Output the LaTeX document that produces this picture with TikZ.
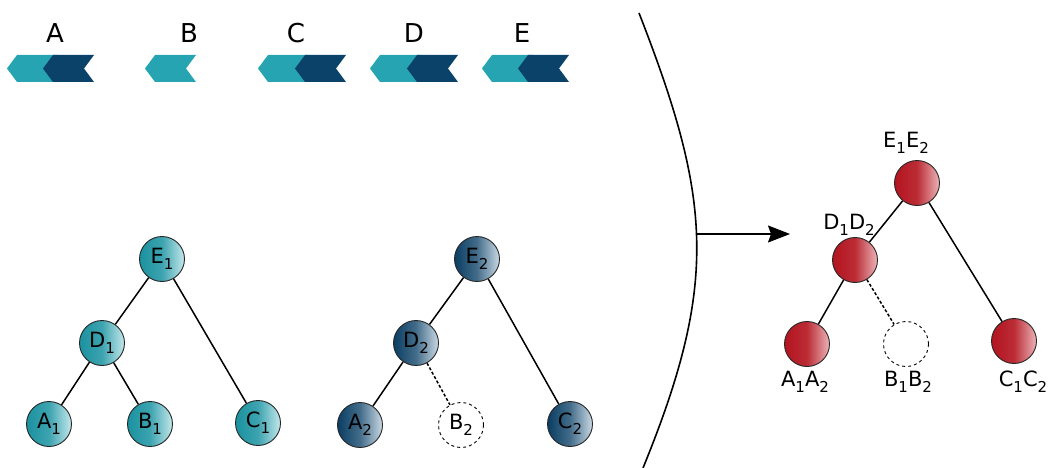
\documentclass[tikz,border=0pt]{standalone}
\usepackage{fontspec}
\setmainfont{DejaVu Sans}
\usetikzlibrary{arrows.meta}

\definecolor{chevlight}{HTML}{26A4B1}
\definecolor{chevdark}{HTML}{0B426A}
\definecolor{tealL}{HTML}{1B92A0}
\definecolor{tealR}{HTML}{C4E8EC}
\definecolor{blueL}{HTML}{0A3E63}
\definecolor{blueR}{HTML}{CAD9E4}
\definecolor{redL}{HTML}{B3141E}
\definecolor{redR}{HTML}{EBB4B7}

% lowered index digit
\newcommand\idx[1]{\raisebox{-0.28em}{\fontsize{15}{15}\selectfont#1}}

\tikzset{
  x=1pt, y=-1pt,
  chev/.pic={\fill (0,0) -- (41,0) -- (31,13.5) -- (41,27) -- (0,27) -- (-10,13.5) -- cycle;},
  letter/.style={font=\fontsize{26}{30}\selectfont, inner sep=0pt},
  tag/.style={font=\fontsize{21}{25}\selectfont, inner sep=0pt},
  ball/.style={circle, draw=black!85, line width=0.9pt, minimum size=45pt, inner sep=0pt,
               font=\fontsize{21}{25}\selectfont},
  tealball/.style={ball, left color=tealL, right color=tealR, middle color=tealL!80!tealR},
  blueball/.style={ball, left color=blueL, right color=blueR, middle color=blueL!70!blueR},
  redball/.style={ball, left color=redL, right color=redR, middle color=redL!85!redR},
  ghost/.style={circle, draw=black, dashed, line width=0.9pt, minimum size=45pt, inner sep=0pt,
                font=\fontsize{21}{25}\selectfont},
  edge/.style={line width=1.5pt},
  ghostedge/.style={line width=1.5pt, densely dashed},
}

\begin{document}
\begin{tikzpicture}
\useasboundingbox (0,0) rectangle (1051,468);

% sequence letters and their chevrons
\node[letter] (lA) at (55,33) {A};
\node[letter] (lB) at (189,33) {B};
\node[letter] (lC) at (296,33) {C};
\node[letter] (lD) at (414,33) {D};
\node[letter] (lE) at (522,33) {E};

\pic[chevlight] (cA1) at (17,55) {chev};
\pic[chevdark]  (cA2) at (53,55) {chev};
\pic[chevlight] (cB1) at (155,55) {chev};
\pic[chevlight] (cC1) at (268,55) {chev};
\pic[chevdark]  (cC2) at (305,55) {chev};
\pic[chevlight] (cD1) at (380,55) {chev};
\pic[chevdark]  (cD2) at (417,55) {chev};
\pic[chevlight] (cE1) at (492,55) {chev};
\pic[chevdark]  (cE2) at (528,55) {chev};

% first tree
\node[tealball] (E1) at (162,259) {E\idx{1}};
\node[tealball] (D1) at (102,343) {D\idx{1}};
\node[tealball] (A1) at (49,424) {A\idx{1}};
\node[tealball] (B1) at (150,424) {B\idx{1}};
\node[tealball] (C1) at (258,423) {C\idx{1}};
\draw[edge] (E1) -- (D1);
\draw[edge] (E1) -- (C1);
\draw[edge] (D1) -- (A1);
\draw[edge] (D1) -- (B1);

% second tree
\node[blueball] (E2) at (477,259) {E\idx{2}};
\node[blueball] (D2) at (416,343) {D\idx{2}};
\node[blueball] (A2) at (360,425) {A\idx{2}};
\node[ghost]    (B2) at (461,425) {B\idx{2}};
\node[blueball] (C2) at (570,424) {C\idx{2}};
\draw[edge] (E2) -- (D2);
\draw[edge] (E2) -- (C2);
\draw[edge] (D2) -- (A2);
\draw[ghostedge] (D2) -- (B2);

% separating curve and arrow
\coordinate (ctop) at (639,13);
\coordinate (cbot) at (643,468);
\draw[line width=1.6pt] (ctop) .. controls (711.5,199) and (719,282) .. (cbot);
\coordinate (arcmid) at (697,234);
\coordinate (tip) at (790,234);
\draw[line width=1.5pt, -{Stealth[length=22pt, width=17pt, inset=3pt]}] (arcmid) -- (tip);

% merged tree
\node[redball] (E12) at (917,183) {};
\node[redball] (D12) at (855,260) {};
\node[redball] (A12) at (807,344) {};
\node[ghost]   (B12) at (906,344) {};
\node[redball] (C12) at (1014,341) {};
\draw[edge] (E12) -- (D12);
\draw[edge] (E12) -- (C12);
\draw[edge] (D12) -- (A12);
\draw[ghostedge] (D12) -- (B12);

\node[tag] (tE) at (906,143) {E\idx{1}E\idx{2}};
\node[tag] (tD) at (849,225) {D\idx{1}D\idx{2}};
\node[tag] (tA) at (805,382) {A\idx{1}A\idx{2}};
\node[tag] (tB) at (908,382) {B\idx{1}B\idx{2}};
\node[tag] (tC) at (1023,382) {C\idx{1}C\idx{2}};
\end{tikzpicture}
\end{document}
